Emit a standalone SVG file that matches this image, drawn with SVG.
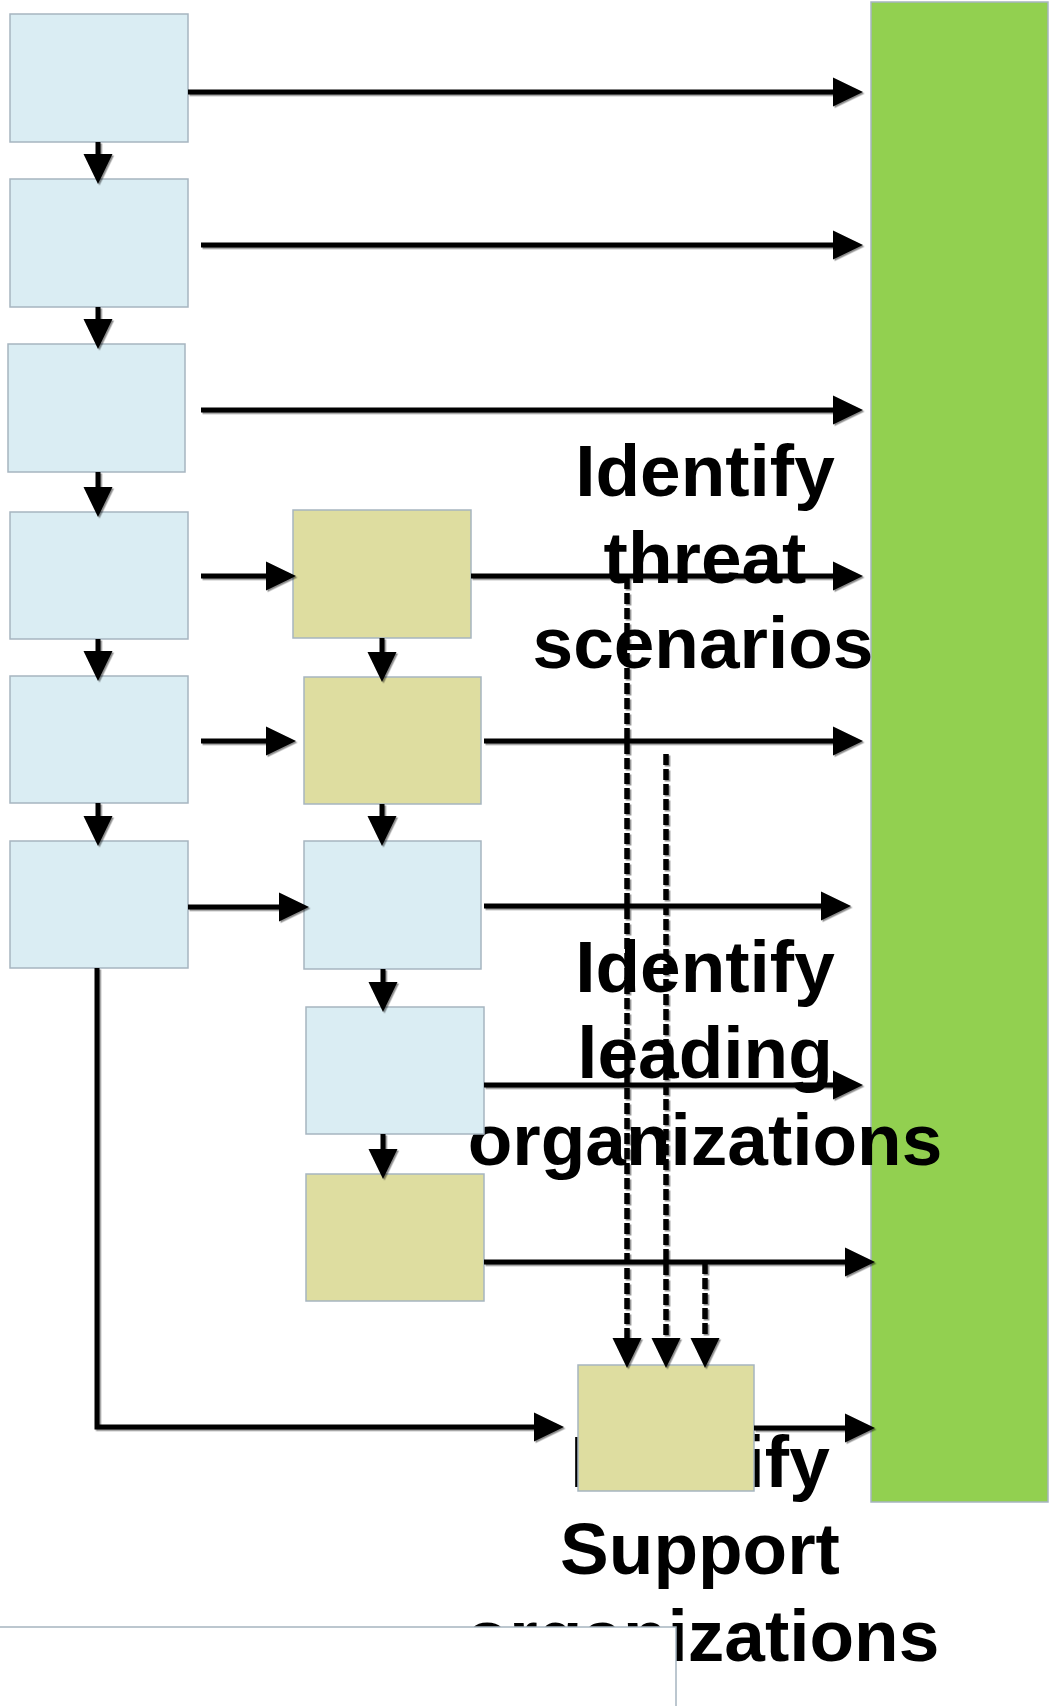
<svg xmlns="http://www.w3.org/2000/svg" width="1050" height="1706" viewBox="0 0 1050 1706">
<style>
.blue{fill:#DAEDF3;stroke:#A6B5C0;stroke-width:1.5}
.tan{fill:#DEDDA0;stroke:#A6B5C0;stroke-width:1.5}
.green{fill:#92D050;stroke:#A6B5C0;stroke-width:1.5}
.lbl{font-family:"Liberation Sans",Arial,sans-serif;font-weight:bold;font-size:73px;fill:#000;text-anchor:middle}
.c{fill:none;stroke:#000;stroke-width:5}
.d{fill:none;stroke:#000;stroke-width:5.5;stroke-dasharray:11 4}
</style>
<defs>
<marker id="ah" markerUnits="userSpaceOnUse" markerWidth="32" markerHeight="32" refX="20" refY="14.5" orient="auto" overflow="visible">
<path d="M0,0 L30,14.5 L0,29 z" fill="#000"/>
</marker>
<filter id="sh" x="-5%" y="-5%" width="110%" height="110%">
<feDropShadow dx="1.5" dy="1.5" stdDeviation="0.6" flood-color="#000" flood-opacity="0.45"/>
</filter>
</defs>
<rect x="0" y="0" width="1050" height="1706" fill="#fff"/>
<g id="target"><rect class="green" x="871" y="2" width="177" height="1500"/></g>
<g id="labels">
<text class="lbl" x="705" y="496">Identify</text>
<text class="lbl" x="705" y="583">threat</text>
<text class="lbl" x="703" y="668">scenarios</text>
<text class="lbl" x="705" y="992">Identify</text>
<text class="lbl" x="705" y="1078">leading</text>
<text class="lbl" x="705" y="1165">organizations</text>
<text class="lbl" x="700" y="1487">Identify</text>
<text class="lbl" x="700" y="1574">Support</text>
<text class="lbl" x="702" y="1661">organizations</text>
</g>
<g id="n1"><rect class="blue" x="10" y="14" width="178" height="128"/></g>
<g id="n2"><rect class="blue" x="10" y="179" width="178" height="128"/></g>
<g id="n3"><rect class="blue" x="8" y="344" width="177" height="128"/></g>
<g id="n4"><rect class="blue" x="10" y="512" width="178" height="127"/></g>
<g id="n5"><rect class="blue" x="10" y="676" width="178" height="127"/></g>
<g id="n6"><rect class="blue" x="10" y="841" width="178" height="127"/></g>
<g id="m1"><rect class="tan" x="293" y="510" width="178" height="128"/></g>
<g id="m2"><rect class="tan" x="304" y="677" width="177" height="127"/></g>
<g id="m3"><rect class="blue" x="304" y="841" width="177" height="128"/></g>
<g id="m4"><rect class="blue" x="306" y="1007" width="178" height="127"/></g>
<g id="m5"><rect class="tan" x="306" y="1174" width="178" height="127"/></g>
<g id="support"><rect class="tan" x="578" y="1365" width="176" height="126"/></g>
<g id="connectors" filter="url(#sh)">
<g marker-end="url(#ah)">
<path class="c" d="M98,142 V174"/>
<path class="c" d="M98,307 V339"/>
<path class="c" d="M98,472 V507"/>
<path class="c" d="M98,639 V671"/>
<path class="c" d="M98,803 V836"/>
<path class="c" d="M382,638 V672"/>
<path class="c" d="M382,804 V836"/>
<path class="c" d="M383,969 V1002"/>
<path class="c" d="M383,1134 V1169"/>
<path class="c" d="M201,576 H286"/>
<path class="c" d="M201,741 H286"/>
<path class="c" d="M188,907 H299"/>
<path class="c" d="M188,92 H853"/>
<path class="c" d="M201,245 H853"/>
<path class="c" d="M201,410 H853"/>
<path class="c" d="M471,576 H853"/>
<path class="c" d="M484,741 H853"/>
<path class="c" d="M484,906 H841"/>
<path class="c" d="M484,1085 H853"/>
<path class="c" d="M484,1262 H865"/>
<path class="c" d="M754,1428 H865"/>
<path class="c" d="M97,968 V1427 H554"/>
<path class="d" d="M627,578 V1358"/>
<path class="d" d="M666,754 V1358"/>
<path class="d" d="M705,1263 V1358"/>
</g>
</g>
<g id="panel"><rect x="-2" y="1627" width="678" height="100" fill="#fff" stroke="#A6B5C0" stroke-width="1.5"/></g>
</svg>
